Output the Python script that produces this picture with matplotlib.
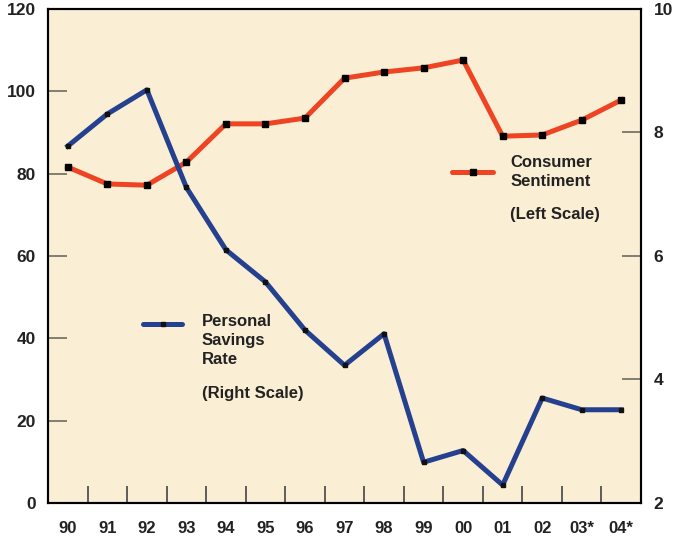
import numpy as np
import matplotlib.pyplot as plt

plt.rcParams['font.family'] = ['Liberation Sans', 'DejaVu Sans']
plt.rcParams['font.weight'] = 'bold'

years = ['90', '91', '92', '93', '94', '95', '96', '97', '98', '99', '00', '01', '02', '03*', '04*']
sentiment = [81.6, 77.5, 77.2, 82.8, 92.1, 92.1, 93.5, 103.2, 104.7, 105.7, 107.6, 89.1, 89.4, 93.0, 97.9]
savings = [7.78, 8.30, 8.69, 7.11, 6.10, 5.58, 4.80, 4.23, 4.74, 2.66, 2.85, 2.29, 3.70, 3.51, 3.51]

red = '#EE4423'
blue = '#24408F'
txt = '#222222'
x = np.arange(len(years))

fig = plt.figure(figsize=(6.81, 5.39), dpi=100)
ax = fig.add_axes([0.0705, 0.0668, 0.8708, 0.9165])
ax.set_facecolor('#FAEFD4')
ax2 = ax.twinx()

ax.plot(x, sentiment, color=red, lw=3.6, marker='s', ms=5, mfc='black', mec='black', zorder=3)
ax2.plot(x, savings, color=blue, lw=3.6, marker='s', ms=3, mfc='#111111', mec='#111111', zorder=3)

ax.set_xlim(-0.5, 14.5)
ax.set_ylim(0, 120)
ax2.set_ylim(2, 10)

ax.set_xticks(x)
ax.set_xticklabels(years)
ax.set_xticks(np.arange(0.5, 14, 1), minor=True)
ax.tick_params(axis='x', which='major', length=0, pad=13, labelsize=12, labelcolor=txt)
ax.tick_params(axis='x', which='minor', direction='in', length=12, width=1.2, color='#444444')

ax.set_yticks([0, 20, 40, 60, 80, 100, 120])
ax.tick_params(axis='y', direction='in', length=14, width=1.2, color='#6b6b5f', pad=9,
               labelsize=12.5, labelcolor=txt)
ax2.set_yticks([2, 4, 6, 8, 10])
ax2.tick_params(axis='y', direction='in', length=14, width=1.2, color='#6b6b5f', pad=9,
                labelsize=12.5, labelcolor=txt)

for a in (ax, ax2):
    for s in a.spines.values():
        s.set_linewidth(1.5)
        s.set_color('black')

# inline legends
ax.plot([1.9, 2.9], [43.5, 43.5], color=blue, lw=3.6, solid_capstyle='round')
ax.plot([2.4], [43.5], marker='s', ms=3, color='#111111')
ax.text(3.39, 39.4, 'Personal\nSavings\nRate', fontsize=12, color=txt, va='center', linespacing=1.32)
ax.text(3.39, 26.7, '(Right Scale)', fontsize=12, color=txt, va='center')

ax.plot([9.72, 10.76], [80.4, 80.4], color=red, lw=3.6, solid_capstyle='round')
ax.plot([10.24], [80.4], marker='s', ms=5, color='black')
ax.text(11.19, 80.4, 'Consumer\nSentiment', fontsize=12, color=txt, va='center', linespacing=1.32)
ax.text(11.19, 70.2, '(Left Scale)', fontsize=12, color=txt, va='center')

fig.savefig('out.png', dpi=100)
